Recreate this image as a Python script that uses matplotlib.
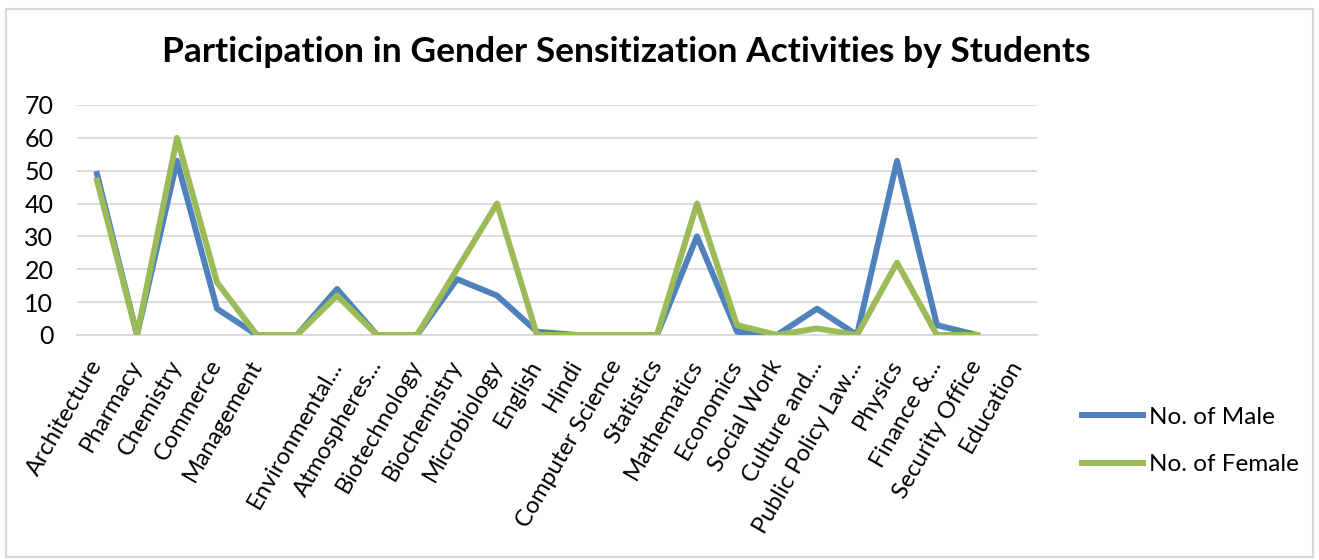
import numpy as np
import matplotlib
matplotlib.use("Agg")
import matplotlib.pyplot as plt
from matplotlib.patches import Rectangle

# data
departments = ["Architecture", "Pharmacy", "Chemistry", "Commerce", "Management", "",
               "Environmental...", "Atmospheres...", "Biotechnology", "Biochemistry",
               "Microbiology", "English", "Hindi", "Computer Science", "Statistics",
               "Mathematics", "Economics", "Social Work", "Culture and...",
               "Public Policy Law...", "Physics", "Finance &...", "Security Office",
               "Education"]
male = [49, 0, 53, 8, 0, 0, 14, 0, 0, 17, 12, 1, 0, 0, 0, 30, 1, 0, 8, 0, 53, 3, 0, np.nan]
female = [47, 0, 60, 16, 0, 0, 12, 0, 0, 20, 40, 0, 0, 0, 0, 40, 3, 0, 2, 0, 22, 0, 0, np.nan]

plt.rcParams['font.family'] = ['Lato', 'DejaVu Sans']

fig = plt.figure(figsize=(13.19, 5.6), dpi=100)
ax = fig.add_axes([77 / 1319, 1 - 335 / 560, 960 / 1319, 230 / 560])

x = np.arange(len(departments))
ax.plot(x, male, color="#4F81BD", lw=4.3, solid_joinstyle="round", label="No. of Male", zorder=3)
ax.plot(x, female, color="#9BBB59", lw=4.3, solid_joinstyle="round", label="No. of Female", zorder=4)

ax.set_xlim(-0.5, len(departments) - 0.5)
ax.set_ylim(0, 70)
ax.set_yticks(range(0, 71, 10))
ax.yaxis.grid(True, color="#D9D9D9", lw=1.3)
ax.set_axisbelow(True)
for s in ["top", "right", "left"]:
    ax.spines[s].set_visible(False)
ax.spines["bottom"].set_color("#D9D9D9")
ax.spines["bottom"].set_linewidth(1.3)
ax.tick_params(axis="both", length=0, colors="black")
ax.tick_params(axis="y", pad=17, labelsize=18)
ax.set_xticks(x)
ax.set_xticklabels(departments, rotation=60, ha="right", va="center",
                   rotation_mode="anchor", fontsize=17)
ax.tick_params(axis="x", pad=19)

fig.text(626 / 1319, 1 - 52 / 560, "Participation in Gender Sensitization Activities by Students",
         ha="center", va="center", fontsize=25.5, fontweight="bold")

fig.legend(loc="center left", bbox_to_anchor=(1082 / 1319, 1 - 441 / 560), frameon=False,
           fontsize=17.5, handlelength=2.5, handletextpad=0.25, labelspacing=1.1,
           borderpad=0, borderaxespad=0)

fig.patches.append(Rectangle((6 / 1319, 1 - 557 / 560), 1307 / 1319, 548 / 560,
                             transform=fig.transFigure, fill=False,
                             edgecolor="#D9D9D9", lw=1.5))

fig.savefig("out.png", dpi=100)
